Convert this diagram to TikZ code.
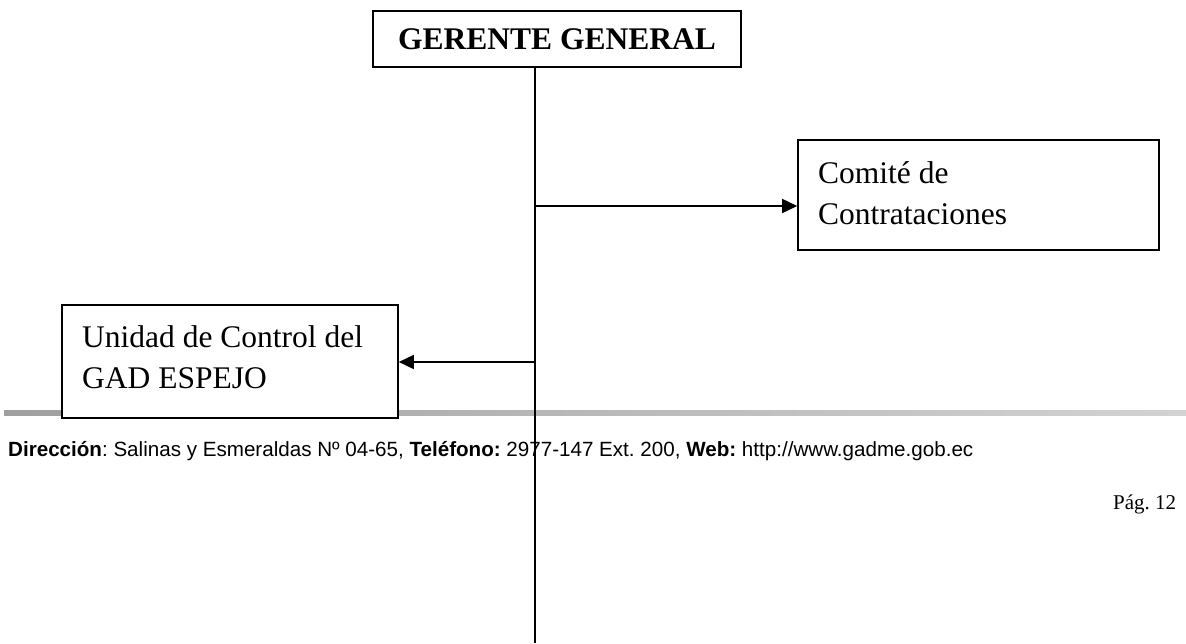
\documentclass[tikz,border=0pt]{standalone}
\usepackage{fontspec}
\setmainfont{Liberation Serif}
\newfontfamily\footfont{Liberation Sans}
\usetikzlibrary{arrows.meta}
\frenchspacing
\begin{document}
\begin{tikzpicture}[x=1pt,y=-1pt,
  box/.style={draw=black,line width=1.6pt,fill=white,inner sep=0pt},
  conn/.style={draw=black,line width=1.6pt},
  arr/.style={conn,-{Triangle[length=15pt,width=14pt]}},
  bigtext/.style={font=\fontsize{31.5}{41.5}\selectfont,align=left,anchor=north west,inner sep=0pt}]
\useasboundingbox (0,0) rectangle (1186,643);
% gray rule
\shade[left color=gray!75,right color=gray!35] (4,410.5) rectangle (1186,415.5);
% boxes
\node[box,minimum width=368pt,minimum height=56pt] (gg) at (557,39) {\fontsize{31.5}{36}\selectfont\bfseries GERENTE GENERAL};
\node[box,minimum width=361pt,minimum height=110pt] (cc) at (978.5,195) {};
\node[bigtext] (cct) at (818,161) {Comité de\\Contrataciones};
\node[box,minimum width=336pt,minimum height=113pt] (uc) at (230,361.5) {};
\node[bigtext] (uct) at (82,325) {Unidad de Control del\\GAD ESPEJO};
% connectors
\coordinate (bot) at (535,643);
\coordinate (j1) at (535,206);
\coordinate (j2) at (535,362);
\draw[conn] (gg.south -| bot) -- (bot);
\draw[arr] (j1) -- (j1 -| cc.west);
\draw[arr] (j2) -- (j2 -| uc.east);
% footer
\node[anchor=west,inner sep=0pt,font=\footfont\fontsize{20.6}{25}\selectfont] (foot) at (8,451) {\textbf{Dirección}: Salinas y Esmeraldas Nº 04-65, \textbf{Teléfono:} 2977-147 Ext. 200, \textbf{Web:} http://www.gadme.gob.ec};
\node[anchor=west,inner sep=0pt,font=\fontsize{21}{25}\selectfont] (pag) at (1113,504) {Pág. 12};
\end{tikzpicture}
\end{document}
